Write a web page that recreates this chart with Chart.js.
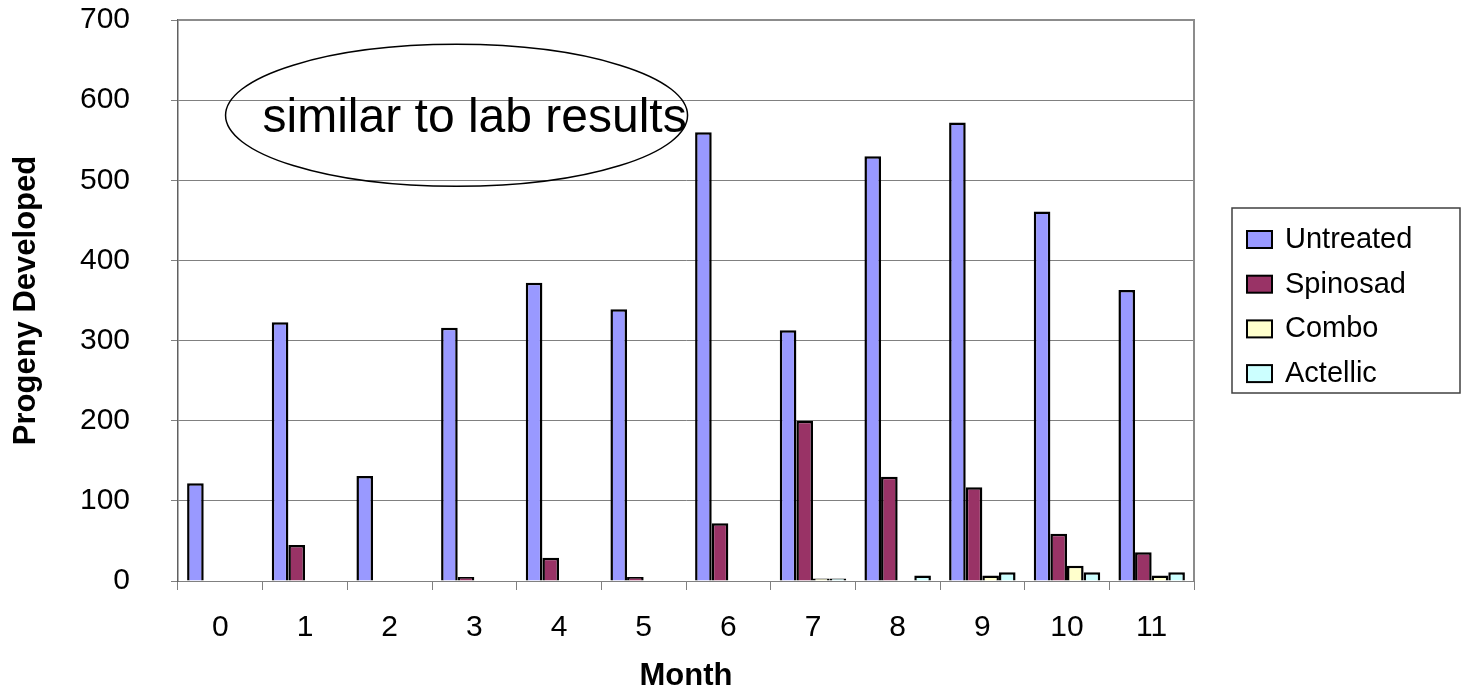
<!DOCTYPE html>
<html>
<head>
<meta charset="utf-8">
<title>Progeny Developed by Month</title>
<script src="https://cdn.jsdelivr.net/npm/chart.js@4/dist/chart.umd.min.js"></script>
<style>
  html, body { margin: 0; padding: 0; background: #ffffff; }
  canvas { display: block; }
</style>
</head>
<body>
<canvas id="chart" width="1462" height="692"></canvas>
<script>
// Months sampled and progeny counts per treatment
const months = ['0', '1', '2', '3', '4', '5', '6', '7', '8', '9', '10', '11'];
const untreated = [122, 323, 131, 316, 372, 339, 560, 313, 530, 572, 461, 363];
const spinosad  = [0, 45, 0, 5, 29, 5, 72, 200, 130, 117, 59, 36];
const combo     = [0, 0, 0, 0, 0, 0, 0, 3, 0, 7, 19, 7];
const actellic  = [0, 0, 0, 0, 0, 0, 0, 3, 7, 11, 11, 11];

const seriesNames = ['Untreated', 'Spinosad', 'Combo', 'Actellic'];
const yTicks = [0, 100, 200, 300, 400, 500, 600, 700];
const noteText = 'similar to lab results';

const FONT = '"Liberation Sans", Arial, Helvetica, sans-serif';
const fills = ['#9999FF', '#993366', '#FFFFCC', '#CCFFFF'];

const datasets = [untreated, spinosad, combo, actellic].map((values, i) => ({
  label: seriesNames[i],
  data: values,
  backgroundColor: fills[i],
  borderColor: '#000000',
  borderWidth: 2.5,
  borderSkipped: 'bottom',
  barPercentage: 1.0,
  categoryPercentage: 0.785
}));

// Grey frame round the plot area
const frame = {
  id: 'frame',
  afterDatasetsDraw(chart) {
    const { ctx, chartArea: a } = chart;
    ctx.save();
    ctx.strokeStyle = '#8c8c8c';
    ctx.lineWidth = 2;
    ctx.beginPath();
    ctx.moveTo(a.left, a.top);
    ctx.lineTo(a.right, a.top);
    ctx.lineTo(a.right, a.bottom);
    ctx.stroke();
    ctx.restore();
  }
};

// Callout ellipse with its note, placed in axis units
const callout = {
  id: 'callout',
  afterDraw(chart) {
    const { ctx, scales } = chart;
    const cx = scales.x.getPixelForValue(2.79);
    const cy = scales.y.getPixelForValue(581);
    ctx.save();
    ctx.beginPath();
    ctx.ellipse(cx, cy, 231, 71, 0, 0, Math.PI * 2);
    ctx.strokeStyle = '#000000';
    ctx.lineWidth = 1.5;
    ctx.stroke();
    ctx.fillStyle = '#000000';
    ctx.font = '48px ' + FONT;
    ctx.textAlign = 'left';
    ctx.textBaseline = 'alphabetic';
    ctx.fillText(noteText, cx - 194, cy + 17);
    ctx.restore();
  }
};

// Boxed legend to the right of the plot
const boxedLegend = {
  id: 'boxedLegend',
  afterDraw(chart) {
    const { ctx } = chart;
    const left = 1232, top = 208, w = 228, h = 185;
    ctx.save();
    ctx.fillStyle = '#ffffff';
    ctx.fillRect(left, top, w, h);
    ctx.strokeStyle = '#404040';
    ctx.lineWidth = 1.5;
    ctx.strokeRect(left, top, w, h);
    ctx.font = '29px ' + FONT;
    ctx.textBaseline = 'middle';
    ctx.textAlign = 'left';
    chart.data.datasets.forEach((ds, i) => {
      const rowY = 239 + i * 44.7;
      ctx.fillStyle = ds.backgroundColor;
      ctx.fillRect(1247, rowY - 8, 25, 17);
      ctx.strokeStyle = '#000000';
      ctx.lineWidth = 2;
      ctx.strokeRect(1247, rowY - 8, 25, 17);
      ctx.fillStyle = '#000000';
      ctx.fillText(ds.label, 1285, rowY + 1);
    });
    ctx.restore();
  }
};

new Chart(document.getElementById('chart'), {
  type: 'bar',
  data: { labels: months, datasets },
  plugins: [frame, callout, boxedLegend],
  options: {
    responsive: false,
    devicePixelRatio: 1,
    animation: false,
    layout: { padding: { top: 20, right: 268, bottom: 0, left: 0 } },
    plugins: {
      legend: { display: false },
      tooltip: { enabled: false },
      title: { display: false }
    },
    scales: {
      x: {
        grid: {
          display: true,
          offset: true,
          drawOnChartArea: false,
          drawTicks: true,
          tickLength: 9,
          color: '#808080',
          lineWidth: 1
        },
        border: { display: true, color: '#808080', width: 1 },
        ticks: {
          color: '#000000',
          font: { family: FONT, size: 30 },
          padding: 20,
          maxRotation: 0
        },
        title: {
          display: true,
          text: 'Month',
          color: '#000000',
          font: { family: FONT, size: 31, weight: 'bold', lineHeight: 1.0 },
          padding: { top: 0, bottom: 0 }
        },
        afterFit(scale) {
          scale.height = 111;
          scale.paddingLeft = 0;
          scale.paddingRight = 0;
        }
      },
      y: {
        min: 0,
        max: 700,
        afterBuildTicks(scale) { scale.ticks = yTicks.map(v => ({ value: v })); },
        grid: {
          color: '#808080',
          lineWidth: 1,
          drawTicks: true,
          tickLength: 7
        },
        border: { display: true, color: '#606060', width: 1.5 },
        ticks: {
          color: '#000000',
          font: { family: FONT, size: 30 },
          padding: 41
        },
        title: {
          display: true,
          text: 'Progeny Developed',
          color: '#000000',
          font: { family: FONT, size: 31, weight: 'bold', lineHeight: 1.0 },
          padding: { top: 11, bottom: 0 }
        },
        afterFit(scale) {
          scale.width = 178;
          scale.paddingTop = 0;
          scale.paddingBottom = 0;
        }
      }
    }
  }
});
</script>
</body>
</html>
